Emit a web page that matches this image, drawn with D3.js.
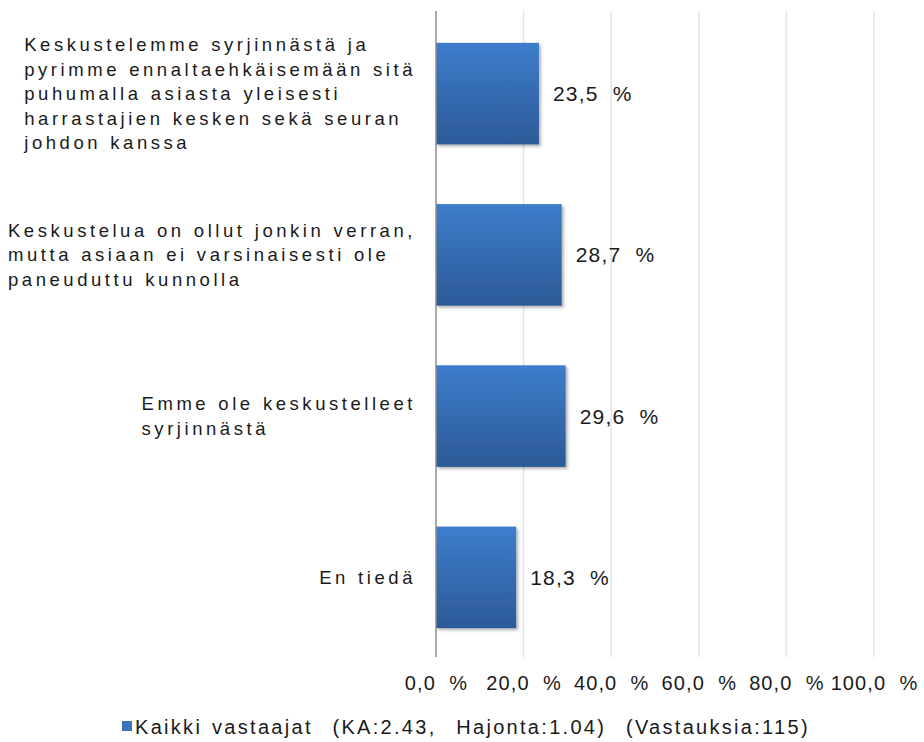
<!DOCTYPE html>
<html><head><meta charset="utf-8">
<script src="https://cdn.jsdelivr.net/npm/d3@7"></script>
<style>
body{margin:0;background:#fff;}
svg text{font-family:"Liberation Sans",Arial,sans-serif;fill:#1a1a1a;}
</style></head>
<body><svg id="c" width="924" height="742"></svg>
<script>
const categories = [
  ["Keskustelemme syrjinnästä ja","pyrimme ennaltaehkäisemään sitä","puhumalla asiasta yleisesti","harrastajien kesken sekä seuran","johdon kanssa"],
  ["Keskustelua on ollut jonkin verran,","mutta asiaan ei varsinaisesti ole","paneuduttu kunnolla"],
  ["Emme ole keskustelleet","syrjinnästä"],
  ["En tiedä"]
];
const values = [23.5, 28.7, 29.6, 18.3];
const tickValues = [0, 20, 40, 60, 80, 100];
const seriesName = "Kaikki vastaajat  (KA:2.43,  Hajonta:1.04)  (Vastauksia:115)";

const svg = d3.select("#c");
const x0 = 436, x1 = 874, yTop = 11, yBot = 657;
const x = d3.scaleLinear().domain([0,100]).range([x0,x1]);
const y = d3.scaleBand().domain(d3.range(values.length)).range([yTop+2,yBot+1]).paddingInner(0.37).paddingOuter(0.185);

const defs = svg.append("defs");
const g = defs.append("linearGradient").attr("id","bg").attr("x1",0).attr("y1",0).attr("x2",0).attr("y2",1);
g.append("stop").attr("offset","0%").attr("stop-color","#3d7dcb");
g.append("stop").attr("offset","100%").attr("stop-color","#2c5a98");
const f = defs.append("filter").attr("id","sh").attr("x","-10%").attr("y","-10%").attr("width","130%").attr("height","130%");
f.append("feDropShadow").attr("dx",2).attr("dy",2).attr("stdDeviation",1.5).attr("flood-color","#000").attr("flood-opacity",0.3);

// gridlines
svg.append("g").selectAll("line").data(tickValues.slice(1)).join("line")
  .attr("x1",d=>x(d)).attr("x2",d=>x(d)).attr("y1",yTop).attr("y2",yBot)
  .attr("stroke","#dce6f2").attr("stroke-width",1.5);

// bars
svg.append("g").selectAll("rect").data(values).join("rect")
  .attr("x",x(0)).attr("y",(d,i)=>y(i)).attr("width",d=>x(d)-x(0)).attr("height",y.bandwidth())
  .attr("fill","url(#bg)").attr("filter","url(#sh)");

// axis line
svg.append("line").attr("x1",x0).attr("x2",x0).attr("y1",yTop).attr("y2",yBot).attr("stroke","#8c8c8c").attr("stroke-width",1.5);

const fmt = v => d3.format(".1f")(v).replace(".",",");

// value labels
svg.append("g").selectAll("text").data(values).join("text")
  .attr("x",d=>x(d)+14).attr("y",(d,i)=>y(i)+y.bandwidth()/2).attr("dy","0.36em")
  .attr("font-size","21px").attr("letter-spacing","1.2px").attr("xml:space","preserve")
  .text(d=>fmt(d)+"  %");

// x tick labels
const xa = d3.axisBottom(x).tickValues(tickValues).tickSize(0).tickFormat(d=>fmt(d)+"  %");
const ax = svg.append("g").attr("transform",`translate(0,${yBot})`).call(xa);
ax.select(".domain").remove();
ax.selectAll("text").attr("y",26).attr("dy","0.36em").attr("fill","#1a1a1a").attr("font-family",null)
  .attr("font-size","20px").attr("letter-spacing","1.1px").attr("xml:space","preserve");

// category labels
const lh = 24.6;
categories.forEach((lines,i)=>{
  const cy = y(i)+y.bandwidth()/2;
  const t = svg.append("text").attr("font-size","18.5px").attr("letter-spacing","3.55px").attr("word-spacing","0.5px");
  lines.forEach((ln,j)=>{
    t.append("tspan").attr("y",cy+(j-(lines.length-1)/2)*lh).attr("dy","0.35em").text(ln);
  });
  let mw = 0;
  t.selectAll("tspan").each(function(){mw=Math.max(mw,this.getComputedTextLength());});
  t.selectAll("tspan").attr("x",416-mw);
});

// legend
svg.append("rect").attr("x",122).attr("y",721).attr("width",10).attr("height",10).attr("fill","#3a72bb");
svg.append("text").attr("x",135).attr("y",727).attr("dy","0.36em").text(seriesName)
  .attr("font-size","20px").attr("letter-spacing","2.3px").attr("word-spacing","2px").attr("xml:space","preserve");
</script></body></html>
